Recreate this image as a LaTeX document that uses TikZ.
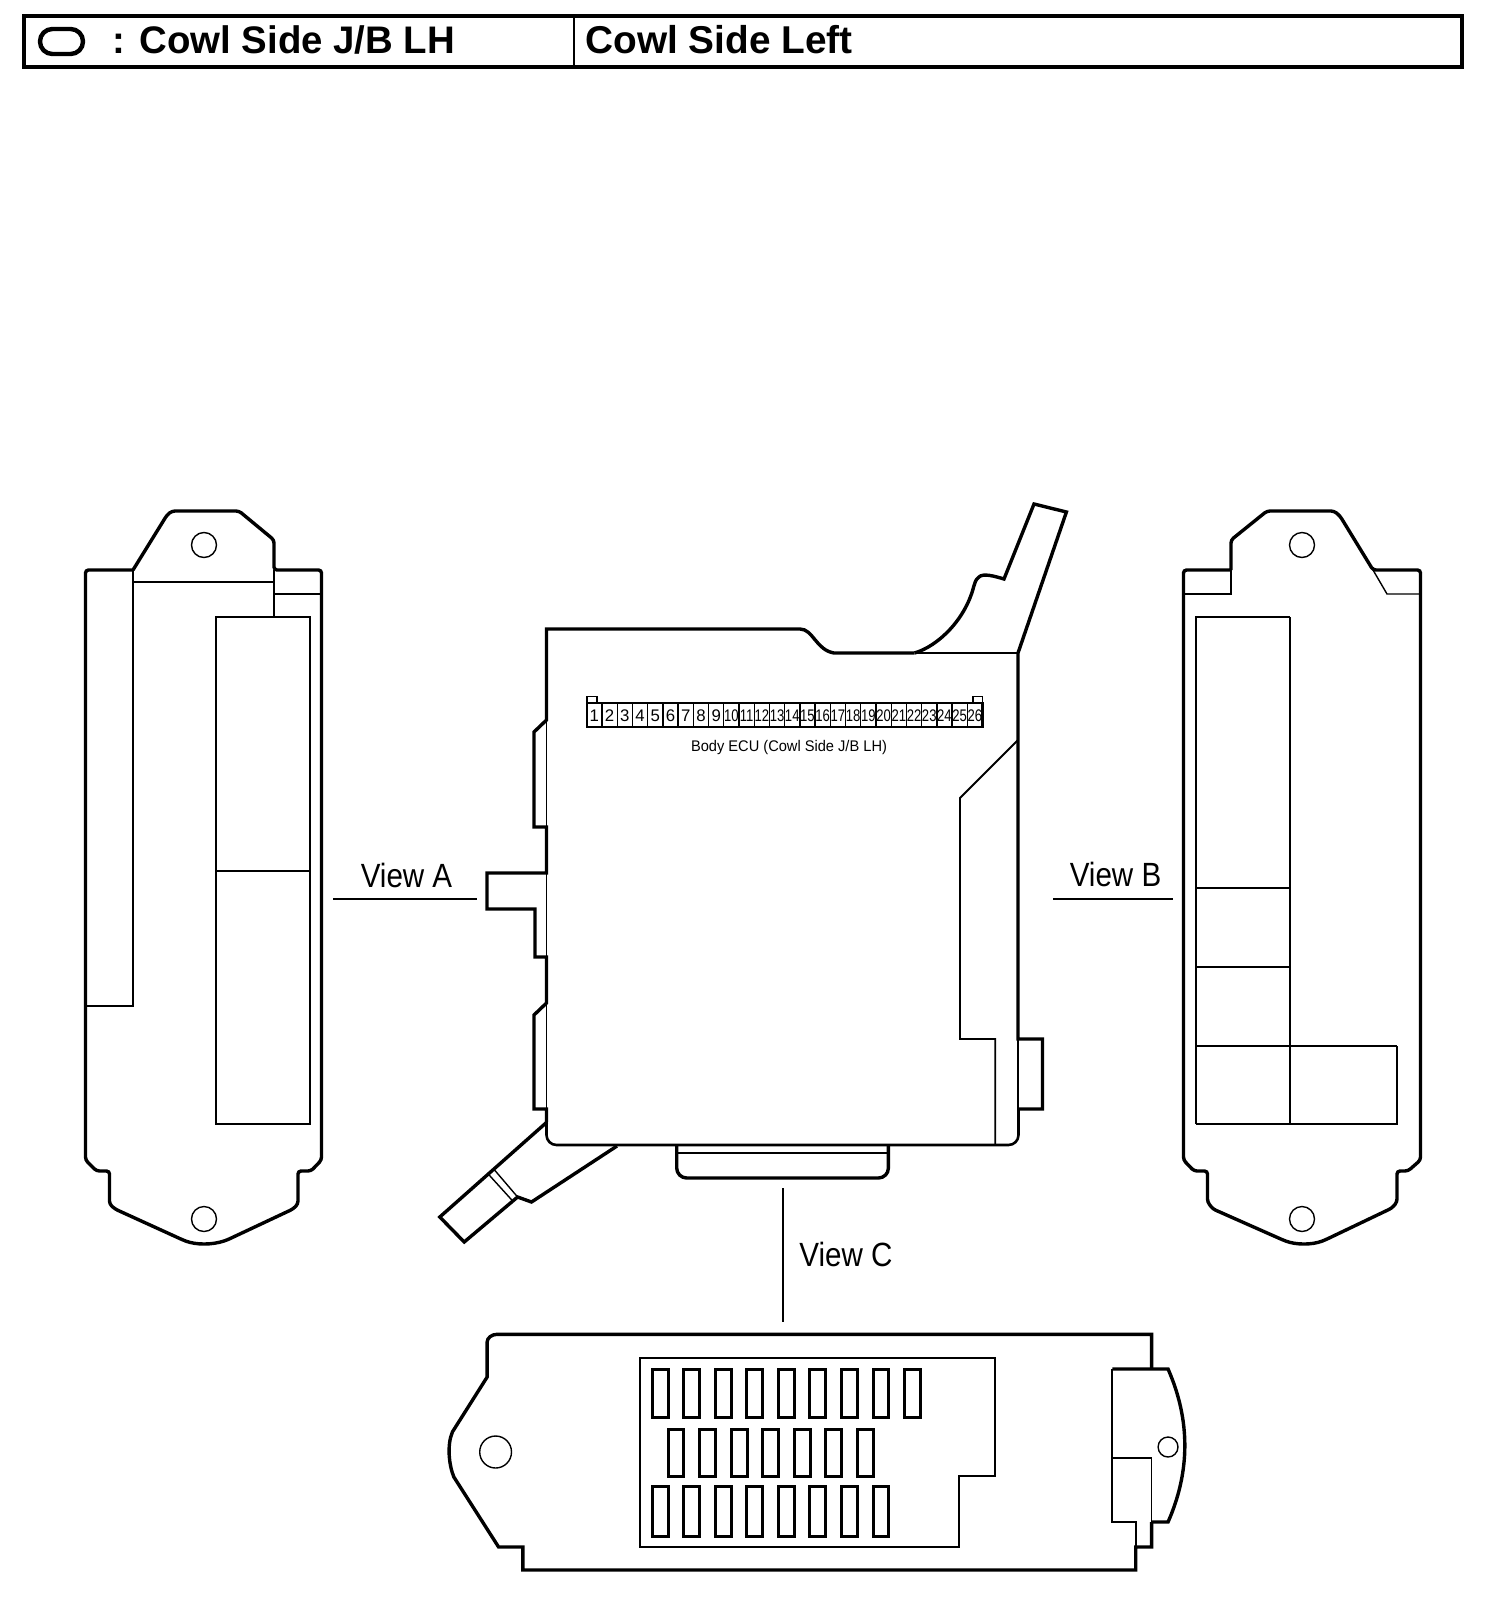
\documentclass[tikz,border=0pt]{standalone}
\usepackage{fontspec}
\setmainfont{Liberation Sans}
\tikzset{
  thickln/.style={line width=1.7pt,line join=miter,line cap=butt},
  medln/.style={line width=1.1pt,line join=miter},
  innerln/.style={line width=.9pt,line join=miter},
  thinln/.style={line width=.7pt,line join=miter},
  headtxt/.style={anchor=west,inner sep=0pt,font=\bfseries\fontsize{19.4}{22}\selectfont},
  viewtxt/.style={inner sep=0pt,font=\fontsize{16.8}{20}\selectfont,xscale=.88},
  pintxt/.style={inner sep=0pt,font=\fontsize{8.4}{9}\selectfont},
  slot/.style={line width=1.5pt},
}
\begin{document}
\begin{tikzpicture}[x=0.5pt,y=-0.5pt]
\useasboundingbox (0,0) rectangle (1504,1606);
% header
\draw[line width=2pt] (24,16) rectangle (1462,67);
\draw[medln] (574,16) -- (574,67);
\draw[line width=2.2pt,rounded corners=6.2pt] (40,29) rectangle (83,54);
\node[headtxt,font=\bfseries\fontsize{19.2}{22}\selectfont] (h1) at (112,40) {: Cowl Side J/B LH};
\node[headtxt] (h2) at (585,40) {Cowl Side Left};
% left view
\draw[thickln,rounded corners=1.5pt] (133,570) -- (85.5,570) -- (85.5,1160) -- (96.5,1171) -- (109.5,1171) -- (109.5,1204) -- (115,1209) -- (183,1240) .. controls (196,1245) and (212,1245) .. (227,1240) -- (293,1209) -- (298,1204) -- (298,1171) -- (311,1171) -- (321.5,1160) -- (321.5,570) -- (274,570) -- (274,540) -- (239,511) -- (172,511) -- (167,515) -- (133,570);
\draw[medln] (133,570) -- (133,1006) -- (85.5,1006);
\draw[thinln] (133,582) -- (274,582);
\draw[thinln] (274,570) -- (274,617);
\draw[thinln] (274,594) -- (321.5,594);
\draw[medln] (216,617) rectangle (310,1124);
\draw[line width=1.3pt] (216,871) -- (310,871);
\draw[thinln] (204,545) circle [radius=6.25pt];
\draw[thinln] (204,1219) circle [radius=6.25pt];
% right view
\draw[thickln,rounded corners=1.5pt] (1231,570) -- (1183.5,570) -- (1183.5,1160) -- (1194,1171) -- (1207.5,1171) -- (1207.5,1202) -- (1213,1209) -- (1283,1240) .. controls (1296,1245) and (1312,1245) .. (1325,1240) -- (1392,1208) -- (1397,1202) -- (1397,1171) -- (1408,1171) -- (1420.5,1160) -- (1420.5,570) -- (1373,570) -- (1340,516) -- (1334,511) -- (1267,511) -- (1231,540) -- (1231,570);
\draw[thinln] (1373,570) -- (1387,594) -- (1420.5,594);
\draw[thinln] (1183.5,594) -- (1231,594) -- (1231,570);
\draw[medln] (1196,1124) -- (1196,617) -- (1290,617);
\draw[thinln] (1290,617) -- (1290,1124);
\draw[thinln] (1196,1124) -- (1397,1124) -- (1397,1046);
\draw[thinln] (1196,888) -- (1290,888);
\draw[medln] (1196,967) -- (1290,967);
\draw[medln] (1196,1046) -- (1397,1046);
\draw[thinln] (1302,545) circle [radius=6.25pt];
\draw[thinln] (1302,1219) circle [radius=6.25pt];
% main body
\draw[thickln] (914.6,653) -- (834,653) .. controls (816,650) and (813,629) .. (800,629) -- (546.5,629) -- (546.5,720) -- (534,732) -- (534,827) -- (546.5,827) -- (546.5,873) -- (487,873) -- (487,909) -- (535,909) -- (535,957) -- (546.5,957) -- (546.5,1003) -- (534,1015) -- (534,1109) -- (546.5,1109) -- (546.5,1122);
\draw[thinln] (546.5,720) -- (546.5,827);
\draw[thinln] (546.5,873) -- (546.5,957);
\draw[thinln] (546.5,1003) -- (546.5,1122);
\draw[line width=1.3pt,rounded corners=5pt] (546.5,1109) -- (546.5,1145) -- (1018.5,1145) -- (1018.5,1109);
\draw[thickln] (1018,1109) -- (1042.5,1109) -- (1042.5,1039) -- (1018,1039) -- (1018,653) -- (1066.4,512) -- (1034,504) -- (1004,579) .. controls (994,576) and (983,573) .. (979,577) .. controls (975,580) and (975,583) .. (973.6,587) .. controls (965,620) and (938,646) .. (914.6,653);
\draw[thinln] (914.6,653) -- (1018,653);
\draw[thinln] (1018,1039) -- (1018,1109);
\draw[innerln] (1018,740) -- (960,798) -- (960,1039) -- (995.3,1039) -- (995.3,1145);
% bottom tab
\draw[thickln,rounded corners=5pt] (676.7,1145) -- (676.7,1178) -- (888.4,1178) -- (888.4,1145);
\draw[line width=1.3pt] (676.7,1153) -- (888.4,1153);
% tube
\draw[thickln] (547,1122) -- (439.8,1217) -- (464.2,1242) -- (517.6,1197) -- (531.5,1202) -- (617,1146);
\draw[thinln] (487.3,1173) -- (511.8,1200);
\draw[thinln] (493.7,1169) -- (517.6,1197);
% connector
\draw[medln] (586.8,703.3) rectangle (982.5,726.7);
\draw[thinln] (586.8,703.3) -- (586.8,696.7) -- (596.8,696.7) -- (596.8,703.3);
\draw[thinln] (972.9,703.3) -- (972.9,696.7) -- (982.5,696.7) -- (982.5,703.3);
\foreach \i in {1,...,25} { \draw[thinln] ({586.8+\i*15.22},703.3) -- ({586.8+\i*15.22},726.7); }
\foreach \i in {1,...,9} { \node[pintxt] (p\i) at ({586.8+(\i-.5)*15.22},716) {\i}; }
\foreach \i in {10,...,26} { \node[pintxt,xscale=.78] (p\i) at ({586.8+(\i-.5)*15.22},716) {\i}; }
\node[pintxt,font=\fontsize{7.7}{9}\selectfont,xscale=.95] (ecu) at (789,748) {Body ECU (Cowl Side J/B LH)};
% view labels
\node[viewtxt] (va) at (406.5,875) {View A};
\coordinate (va1) at (333,899); \coordinate (va2) at (477,899);
\draw[medln] (va1) -- (va2);
\node[viewtxt] (vb) at (1115.5,874) {View B};
\coordinate (vb1) at (1053,899); \coordinate (vb2) at (1173,899);
\draw[medln] (vb1) -- (vb2);
\node[viewtxt] (vc) at (846,1254) {View C};
\coordinate (vc1) at (783,1188); \coordinate (vc2) at (783,1322);
\draw[thinln] (vc1) -- (vc2);
% view C body
\begin{scope}[shift={(2.58,0)},xscale=.994]
\draw[thickln] (1116.5,1369) -- (1172.5,1369) .. controls (1195,1420) and (1195,1471) .. (1172.5,1522) -- (1156,1522);
\draw[thickln] (1156,1522) -- (1156,1547) -- (1140,1547) -- (1140,1570) -- (523.5,1570) -- (523.5,1547) -- (499,1547) -- (454,1477) .. controls (449,1465) and (447,1445) .. (452.5,1432) -- (487.5,1377) -- (487.5,1342) .. controls (487.5,1338) and (492,1334.3) .. (497.5,1334.3) -- (1156,1334.3) -- (1156,1369);
\draw[innerln] (1116.5,1369) -- (1116.5,1522) -- (1140,1522) -- (1140,1547);
\draw[thinln] (1116.5,1458) -- (1156,1458) -- (1156,1522);
\draw[thinln] (496,1452) circle [radius=8pt];
\draw[thinln] (1172.5,1447) circle [radius=5pt];
\draw[innerln] (641.5,1357.7) -- (998.5,1357.7) -- (998.5,1476) -- (962.5,1476) -- (962.5,1547) -- (641.5,1547) -- cycle;
\foreach \i in {0,...,8} { \draw[slot] ({653.5+\i*31.75},1369) rectangle ({669.5+\i*31.75},1417.5); }
\foreach \i in {0,...,6} { \draw[slot] ({669.5+\i*31.75},1429) rectangle ({685.5+\i*31.75},1476.7); }
\foreach \i in {0,...,7} { \draw[slot] ({653.5+\i*31.75},1486.7) rectangle ({669.5+\i*31.75},1536); }
\end{scope}
\end{tikzpicture}
\end{document}
